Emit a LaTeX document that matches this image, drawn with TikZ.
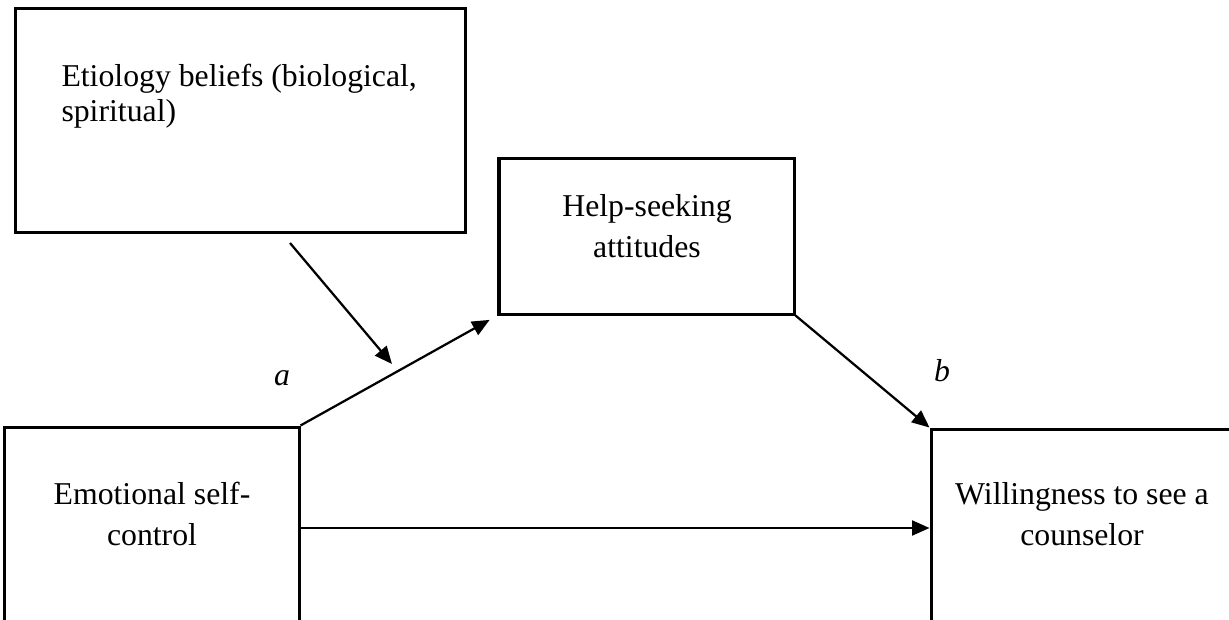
\documentclass[tikz,border=0pt]{standalone}
\usepackage{fontspec}
\setmainfont{Liberation Serif}
\usetikzlibrary{arrows.meta, positioning}

\begin{document}
\begin{tikzpicture}[
      x=0.4pt, y=-0.4pt,
      box/.style={draw, line width=1.2pt, minimum width=#1, inner sep=0pt},
      txt/.style={font=\fontsize{12.7}{16.4}\selectfont, align=center, inner sep=0pt},
      lbl/.style={font=\fontsize{12.7}{14}\selectfont\itshape, inner sep=0pt, anchor=base},
      arr/.style={-{Triangle[length=7pt, width=6pt]}, line width=0.9pt}
    ]
      \path[use as bounding box, clip] (0,0) rectangle (1229,620);
      % boxes
      \node[box=179.6pt, minimum height=89.2pt] (ety)  at (240.5,120.5) {};
      \node[box=118pt,   minimum height=62pt]   (help) at (646.5,236.5) {};
      \node[box=117.6pt, minimum height=80.8pt] (emo)  at (152,528)     {};
      \node[box=125.6pt, minimum height=79.2pt] (will) at (1088,528)    {};
      % texts (anchored at the baseline of the last line)
      \node[txt, font=\fontsize{12.7}{13.8}\selectfont, align=left, anchor=base west] (ety-txt) at (61,121) {Etiology beliefs (biological,\\spiritual)};
      \node[txt, anchor=base] (help-txt) at (647,257)  {Help-seeking\\attitudes};
      \node[txt, anchor=base] (emo-txt)  at (152,545)  {Emotional self-\\control};
      \node[txt, anchor=base] (will-txt) at (1082,545) {Willingness to see a\\counselor};
      \node[lbl] (a) at (282,385) {a};
      \node[lbl] (b) at (942,381) {b};
      % paths
      \coordinate (mod-s) at (290,243);
      \coordinate (mod-e) at (392,364);
      \draw[arr] (mod-s) -- (mod-e);
      \draw[arr, shorten >=3.6pt] (emo.north east) -- (help.south west);
      \draw[arr] (help.south east) -- (will.north west);
      \draw[arr] (emo) -- (will);
    \end{tikzpicture}
\end{document}
